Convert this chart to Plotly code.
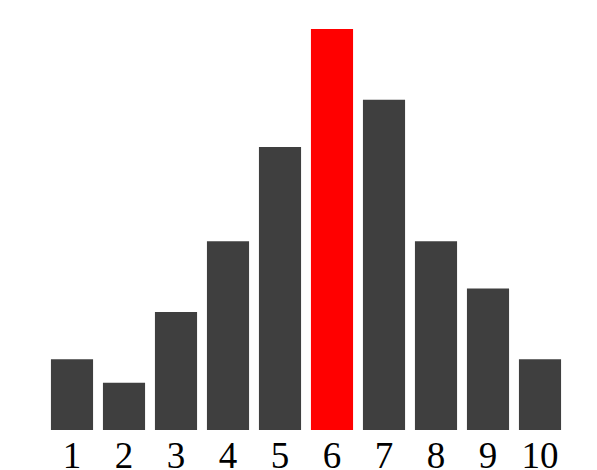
import plotly.graph_objects as go

categories = ['1', '2', '3', '4', '5', '6', '7', '8', '9', '10']
counts = [3, 2, 5, 8, 12, 17, 14, 8, 6, 3]
highlight = '6'

colors = ['#ff0000' if c == highlight else '#3f3f3f' for c in categories]

fig = go.Figure(go.Bar(x=categories, y=counts, marker=dict(color=colors, line=dict(width=0))))

# page body has an 8px margin, so the figure is a bit smaller than the window
fig.update_layout(width=589, height=462, autosize=False,
                  margin=dict(l=38, r=31, t=21, b=40),
                  paper_bgcolor='white', plot_bgcolor='white',
                  bargap=0.19, showlegend=False,
                  font=dict(family='Liberation Serif', color='black'))
fig.update_xaxes(type='category', showgrid=False, zeroline=False, showline=False,
                 ticks='', tickfont=dict(size=37), ticklabelstandoff=0, automargin=False)
fig.update_yaxes(range=[0, 17], visible=False, showgrid=False, automargin=False)

fig.write_html('out.html')
